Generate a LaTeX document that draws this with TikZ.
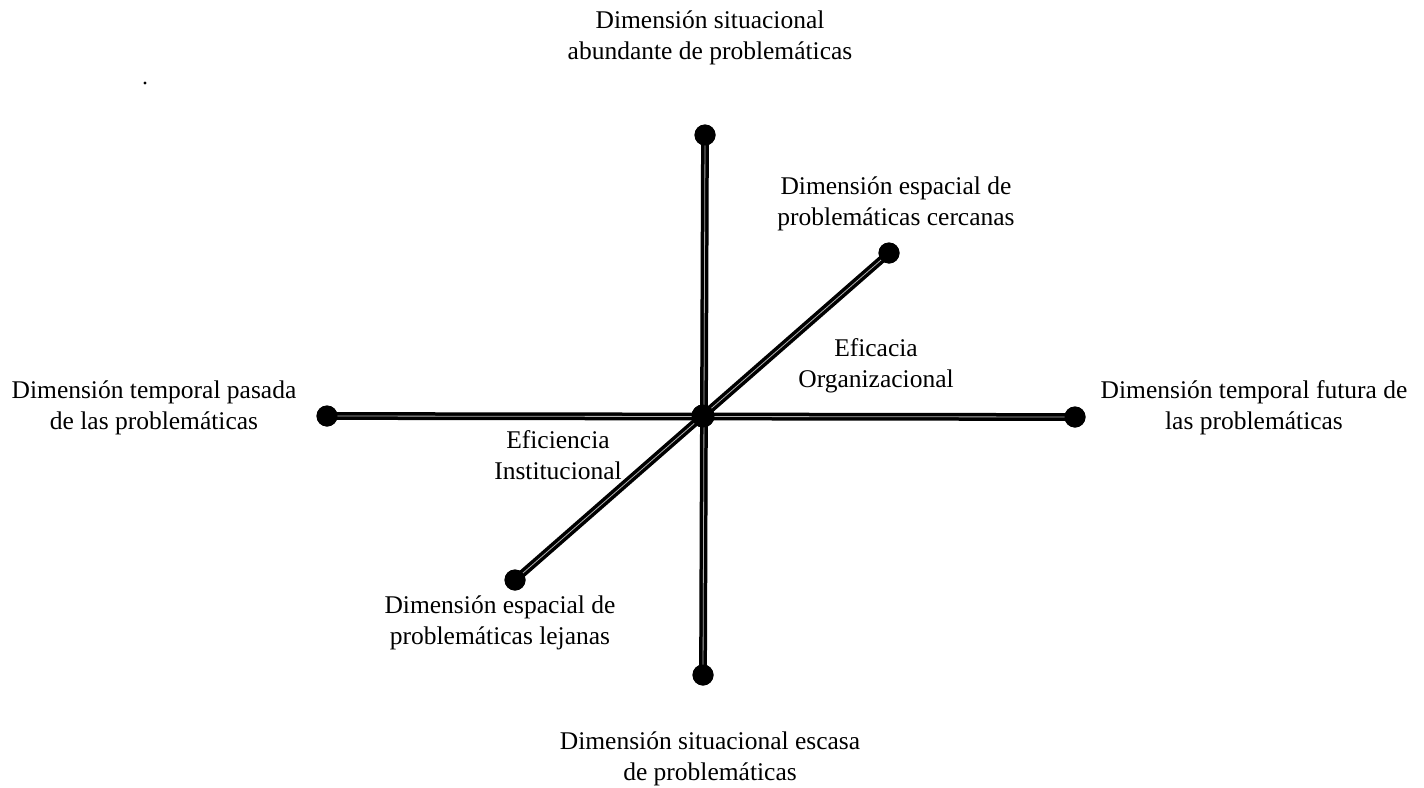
\documentclass[tikz,border=0pt]{standalone}
\usepackage{fontspec}
\setmainfont{Liberation Serif}
\begin{document}
\begin{tikzpicture}[x=1pt,y=-1pt,
  axis/.style={draw=black,line width=3.5pt,double=gray!60,double distance=0.8pt},
  enddot/.style={circle,fill=black,inner sep=0pt,minimum size=21pt},
  middot/.style={circle,fill=black,inner sep=0pt,minimum size=23pt},
  lbl/.style={align=center,font=\fontsize{25.5}{31}\selectfont,inner sep=0pt}]
\useasboundingbox (0,0) rectangle (1424,787);
\node[middot] (c) at (703,416) {};
\node[enddot] (t) at (705,135) {};
\node[enddot] (b) at (703,675) {};
\node[enddot] (l) at (327,416) {};
\node[enddot] (r) at (1075,417) {};
\node[enddot] (ur) at (889,253) {};
\node[enddot] (ll) at (515,580) {};
\draw[axis] (t.center) -- (b.center);
\draw[axis] (l.center) -- (r.center);
\draw[axis] (ur.center) -- (ll.center);
\foreach \n in {t,b,l,r,ur,ll}{\fill (\n) circle (10.5pt);}
\fill (c) circle (11.5pt);
\fill (145,83) circle (1.6pt);
\node[lbl] (lt) at (710,38) {Dimensión situacional\\abundante de problemáticas};
\node[lbl] (lur) at (896,204) {Dimensión espacial de\\problemáticas cercanas};
\node[lbl] (lef) at (876,366) {Eficacia\\Organizacional};
\node[lbl] (ll2) at (154,408) {Dimensión temporal pasada\\de las problemáticas};
\node[lbl] (lr) at (1254,408) {Dimensión temporal futura de\\las problemáticas};
\node[lbl] (lei) at (558,455) {Eficiencia\\Institucional};
\node[lbl] (lll) at (500,623) {Dimensión espacial de\\problemáticas lejanas};
\node[lbl] (lb) at (710,759) {Dimensión situacional escasa\\de problemáticas};
\end{tikzpicture}
\end{document}
